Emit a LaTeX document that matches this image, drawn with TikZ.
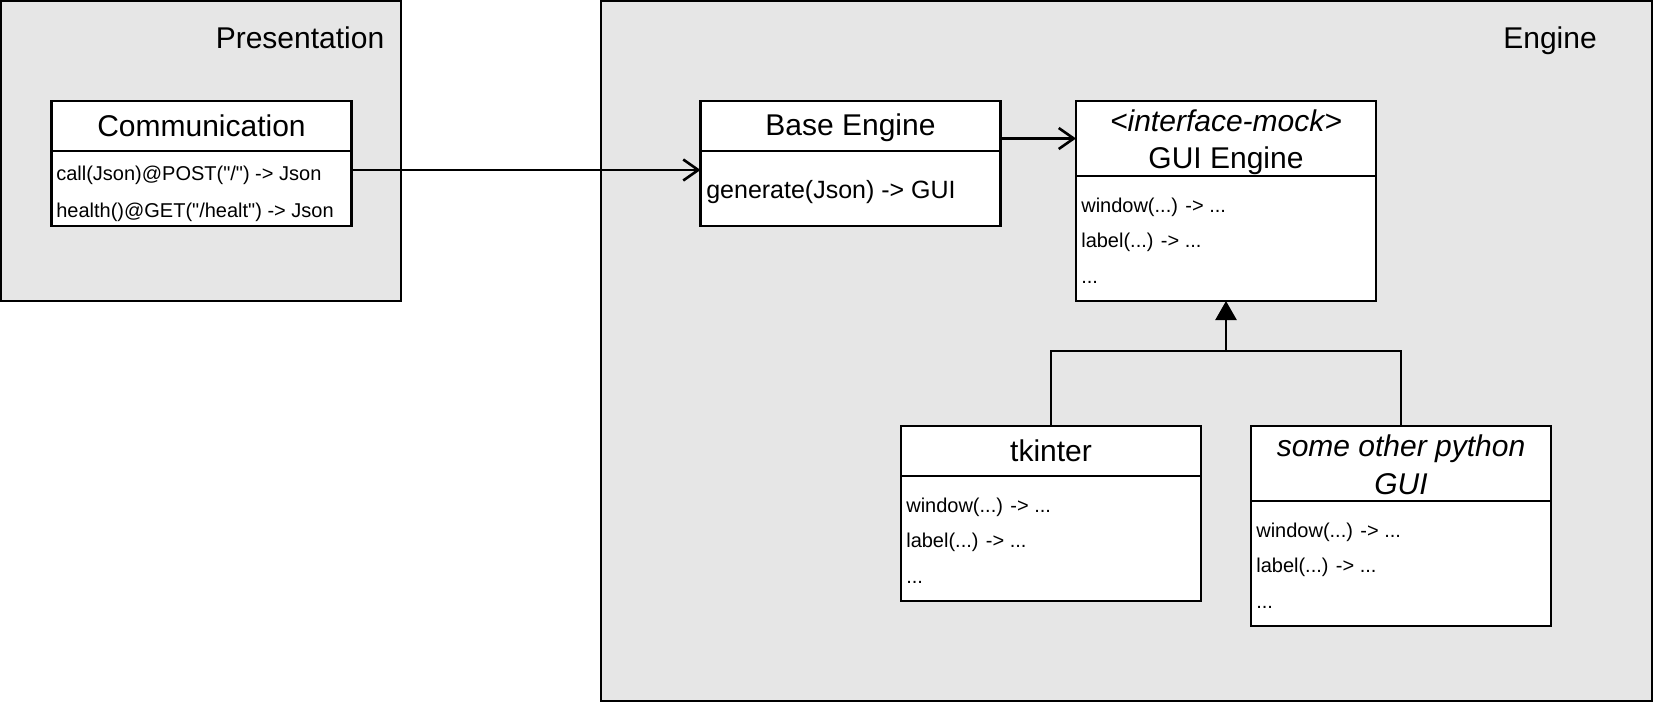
\documentclass[tikz,border=0pt]{standalone}
\usepackage{fontspec}
\setmainfont{Liberation Sans}[Ligatures=TeXOff]
\usetikzlibrary{arrows.meta}
\definecolor{pkgfill}{HTML}{E6E6E6}
\begin{document}
\begin{tikzpicture}[x=1pt,y=-1pt,line width=2.6pt,
  pkgbox/.style={draw,fill=pkgfill,inner sep=0,outer sep=0},
  classbox/.style={draw,fill=white,inner sep=0,outer sep=0,minimum width=300pt},
  bigtxt/.style={inner sep=0,anchor=base,font=\fontsize{30}{37}\selectfont},
  memb/.style={inner sep=0,anchor=base west,font=\fontsize{20}{24}\selectfont},
  membbig/.style={inner sep=0,anchor=base west,font=\fontsize{25}{30}\selectfont},
  openarr/.style={-{Straight Barb[length=15pt,width=21pt]}},
  inherit/.style={-{Triangle[length=19pt,width=21pt]}}]
\useasboundingbox (0,0) rectangle (1653,705);
% containers
\node[pkgbox,minimum width=400pt,minimum height=300pt] (pres) at (201,151) {};
\node[pkgbox,minimum width=1051pt,minimum height=700pt] (eng) at (1126.5,351) {};
\node[bigtxt] (presL) at (300,48) {Presentation};
\node[bigtxt] (engL) at (1550,48) {Engine};
% Communication
\node[classbox,minimum height=50pt] (commH) at (201.5,126) {};
\node[classbox,minimum height=75pt] (commB) at (201.5,188.5) {};
\node[bigtxt] (commT) at (201.5,136) {Communication};
\node[memb] (comm1) at (55,180) {call(Json)@POST("/") -> Json};
\node[memb] (comm2) at (55,217) {health()@GET("/healt") -> Json};
% Base Engine
\node[classbox,minimum height=50pt] (baseH) at (850.5,126) {};
\node[classbox,minimum height=75pt] (baseB) at (850.5,188.5) {};
\node[bigtxt] (baseT) at (850.5,135) {Base Engine};
\node[membbig] (base1) at (705,198) {generate(Json) -> GUI};
% GUI Engine
\node[classbox,minimum height=75pt] (guiH) at (1226,138.5) {};
\node[classbox,minimum height=125pt] (guiB) at (1226,238.5) {};
\node[bigtxt] (guiT1) at (1226,131) {\itshape <interface-mock>};
\node[bigtxt] (guiT2) at (1226,168) {GUI Engine};
\node[memb] (gui1) at (1080,212) {window(...) -> ...};
\node[memb] (gui2) at (1080,247) {label(...) -> ...};
\node[memb] (gui3) at (1080,283) {...};
% tkinter
\node[classbox,minimum height=50pt] (tkH) at (1051,451) {};
\node[classbox,minimum height=125pt] (tkB) at (1051,538.5) {};
\node[bigtxt] (tkT) at (1051,461) {tkinter};
\node[memb] (tk1) at (905,512) {window(...) -> ...};
\node[memb] (tk2) at (905,547) {label(...) -> ...};
\node[memb] (tk3) at (905,583) {...};
% other GUI
\node[classbox,minimum height=75pt] (othH) at (1401,463.5) {};
\node[classbox,minimum height=125pt] (othB) at (1401,563.5) {};
\node[bigtxt] (othT1) at (1401,456) {\itshape some other python};
\node[bigtxt] (othT2) at (1401,494) {\itshape GUI};
\node[memb] (oth1) at (1255,537) {window(...) -> ...};
\node[memb] (oth2) at (1255,572) {label(...) -> ...};
\node[memb] (oth3) at (1255,608) {...};
% connectors
\draw[openarr] ([yshift=-19pt]commB.north east) -- ([yshift=-19pt]baseB.north west);
\draw[openarr] (guiH.west -| baseH.east) -- (guiH.west);
\coordinate (junc) at ([yshift=-50pt]guiB.south);
\draw (tkH.north) |- (junc) -| (othH.north);
\draw[inherit] (junc) -- (guiB.south);
\end{tikzpicture}
\end{document}
